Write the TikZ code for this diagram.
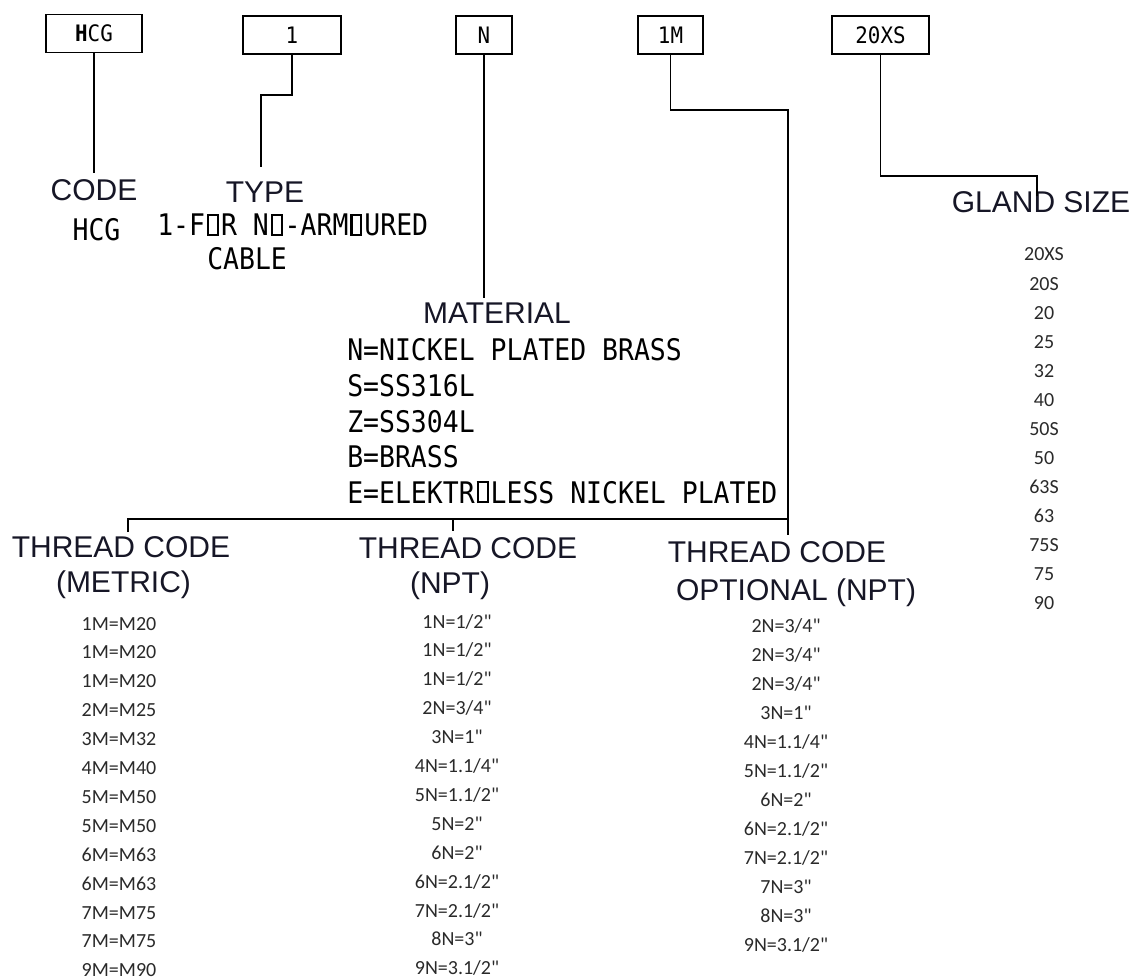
\documentclass[tikz,border=0pt]{standalone}
\usepackage{fontspec}
\setmainfont{Liberation Sans}
\newfontfamily\cadfont[FakeStretch=0.89]{DejaVu Sans Mono}
\newfontfamily\cadboxfont[FakeStretch=0.92]{DejaVu Sans Mono}
\newfontfamily\listfont{Carlito}
\definecolor{headc}{HTML}{161626}
\definecolor{itemc}{HTML}{2A2A2A}
\newcommand{\ob}{\makebox[0.536em]{\hbox{\vrule width 0.07em height 0.729em depth 0pt\kern-0.07em\vrule width 0.40em height 0.729em depth -0.659em\kern-0.40em\vrule width 0.40em height 0.07em depth 0pt\kern-0.07em\vrule width 0.07em height 0.729em depth 0pt}}}
\begin{document}
\begin{tikzpicture}[x=0.75pt,y=-0.75pt,
  ln/.style={line width=1.4pt, black},
  cbox/.style={draw, line width=1.4pt, inner sep=0pt, minimum height=28.5pt, font=\cadboxfont\fontsize{17pt}{19pt}\selectfont},
  head/.style={anchor=base, inner sep=0pt, text=headc, font=\fontsize{22.5pt}{27pt}\selectfont},
  cad/.style={anchor=base west, inner sep=0pt, font=\cadfont\fontsize{22.3pt}{27pt}\selectfont},
  item/.style={anchor=base, inner sep=0pt, text=itemc, font=\listfont\fontsize{15pt}{18pt}\selectfont}]
\useasboundingbox (0,0) rectangle (1134,980);
\fill[white] (0,0) rectangle (1134,980);

% top boxes
\node[cbox, minimum width=72pt] (bHCG) at (94,33.5) {{\bfseries H}CG};
\node[cbox, minimum width=73.5pt] (b1) at (292,35) {1};
\node[cbox, minimum width=42pt] (bN) at (484,35) {N};
\node[cbox, minimum width=48.75pt] (b1M) at (670.5,35) {1M};
\node[cbox, minimum width=72.75pt] (b20) at (880.5,35) {20XS};

% CODE
\node[head] (code) at (94,201) {CODE};
\node[cad, anchor=base] (codeval) at (96.5,241) {HCG};
% TYPE
\node[head] (type) at (265,203) {TYPE};
\node[cad] (type1) at (157,236) {1-F\ob R N\ob-ARM\ob URED};
\node[cad] (type2) at (207,270) {CABLE};
% MATERIAL
\node[head] (mat) at (497,324) {MATERIAL};
\node[cad] (mat1) at (347,360) {N=NICKEL PLATED BRASS};
\node[cad] (mat2) at (347,396) {S=SS316L};
\node[cad] (mat3) at (347,432) {Z=SS304L};
\node[cad] (mat4) at (347,467) {B=BRASS};
\node[cad] (mat5) at (347,503) {E=ELEKTR\ob LESS NICKEL PLATED};
% GLAND SIZE
\node[head] (gland) at (1041,213) {GLAND SIZE};
\foreach \t [count=\i from 0] in {20XS,20S,20,25,32,40,50S,50,63S,63,75S,75,90}
  \node[item] (g\i) at (1044,261+29.08*\i) {\t};

% thread headings
\node[head] (tm1) at (121,557) {THREAD CODE};
\node[head] (tm2) at (123.5,592) {(METRIC)};
\node[head] (tn1) at (468,558) {THREAD CODE};
\node[head] (tn2) at (450,593) {(NPT)};
\node[head] (to1) at (777,562) {THREAD CODE};
\node[head] (to2) at (796,600) {OPTIONAL (NPT)};

\foreach \t [count=\i from 0] in {1M=M20,1M=M20,1M=M20,2M=M25,3M=M32,4M=M40,5M=M50,5M=M50,6M=M63,6M=M63,7M=M75,7M=M75,9M=M90}
  \node[item] (m\i) at (119,630+28.9*\i) {\t};
\foreach \t [count=\i from 0] in {1N=1/2",1N=1/2",1N=1/2",2N=3/4",3N=1",4N=1.1/4",5N=1.1/2",5N=2",6N=2",6N=2.1/2",7N=2.1/2",8N=3",9N=3.1/2"}
  \node[item] (n\i) at (457,628+28.9*\i) {\t};
\foreach \t [count=\i from 0] in {2N=3/4",2N=3/4",2N=3/4",3N=1",4N=1.1/4",5N=1.1/2",6N=2",6N=2.1/2",7N=2.1/2",7N=3",8N=3",9N=3.1/2"}
  \node[item] (o\i) at (786,632+29*\i) {\t};

% connectors
\coordinate (hcgEnd) at (94,173);
\coordinate (typeEnd) at (261,167);
\coordinate (matEnd) at (484,298);
\coordinate (thrEnd) at (788,535);
\coordinate (glEnd) at (1037,196);
\coordinate (barL) at (128,532);
\coordinate (barR) at (788,519);
\coordinate (tickTop) at (453,519);
\coordinate (tickBot) at (453,531);

\draw[ln] (bHCG.south) -- (hcgEnd);
\draw[ln] (b1.south) -- ++(0,40) -| (typeEnd);
\draw[ln] (bN.south) -- (matEnd);
\draw[ln] (b1M.south) -- ++(0,55) -| (thrEnd);
\draw[ln] (b20.south) -- ++(0,121) -| (glEnd);
\draw[ln] (barL) |- (barR);
\draw[ln] (tickTop) -- (tickBot);
\end{tikzpicture}
\end{document}
